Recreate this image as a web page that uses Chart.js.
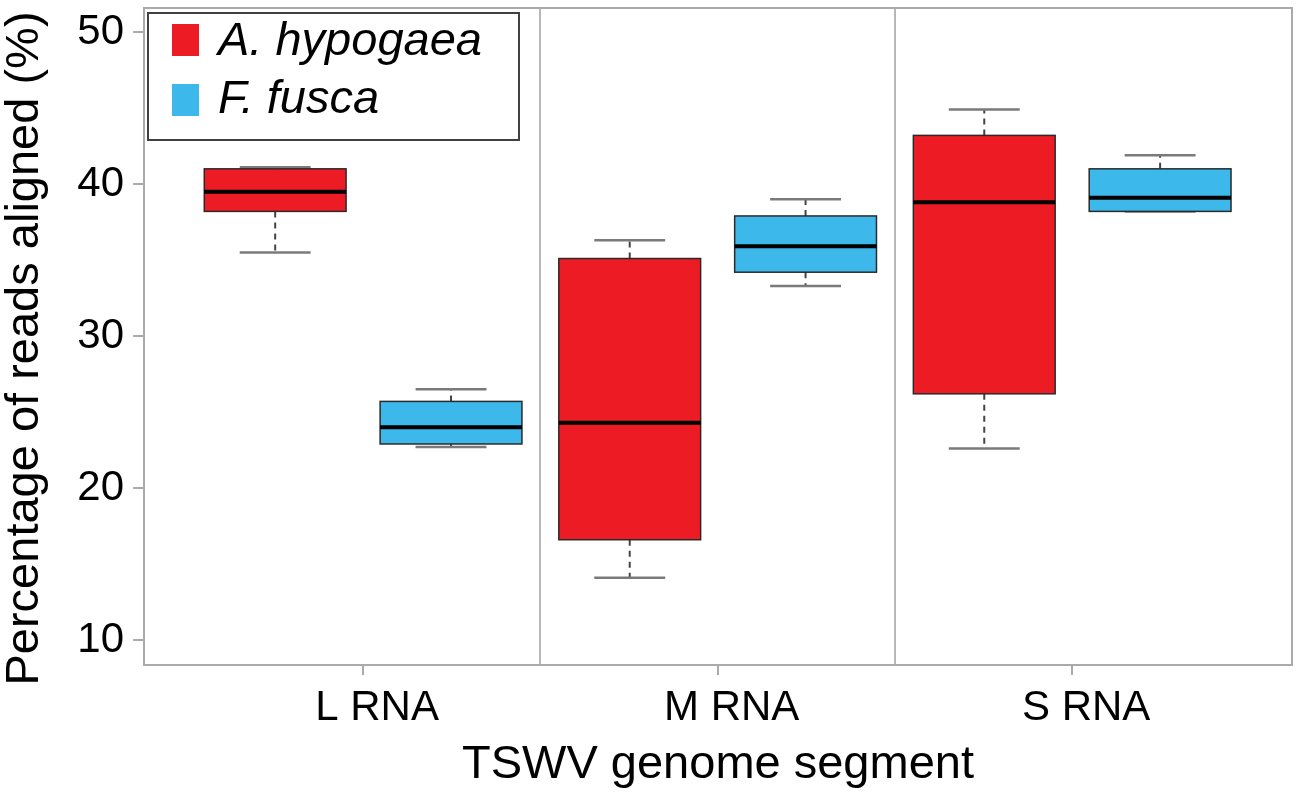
<!DOCTYPE html>
<html>
<head>
<meta charset="utf-8">
<script src="https://cdn.jsdelivr.net/npm/chart.js@4.4.1/dist/chart.umd.min.js"></script>
<style>
  html, body { margin: 0; padding: 0; background: #ffffff; }
  #wrap { width: 1300px; height: 799px; position: relative; }
</style>
</head>
<body>
<div id="wrap"><canvas id="c"></canvas></div>
<script>
// ---- data ----
const categories = ['L RNA', 'M RNA', 'S RNA'];
const speciesNames = ['A. hypogaea', 'F. fusca'];
const speciesColors = ['#ED1C24', '#3CB9EA'];
const yTicks = [10, 20, 30, 40, 50];
const yTitle = 'Percentage of reads aligned (%)';
const xTitle = 'TSWV genome segment';

const hypMin = [35.5, 14.1, 22.6];
const hypQ1  = [38.2, 16.6, 26.2];
const hypMed = [39.5, 24.3, 38.8];
const hypQ3  = [41.0, 35.1, 43.2];
const hypMax = [41.1, 36.3, 44.9];

const fusMin = [22.7, 33.3, 38.2];
const fusQ1  = [22.9, 34.2, 38.2];
const fusMed = [24.0, 35.9, 39.1];
const fusQ3  = [25.7, 37.9, 41.0];
const fusMax = [26.5, 39.0, 41.9];

const series = [
  { min: hypMin, q1: hypQ1, med: hypMed, q3: hypQ3, max: hypMax },
  { min: fusMin, q1: fusQ1, med: fusMed, q3: fusQ3, max: fusMax }
];

// ---- geometry in axis units ----
const OFFSETS = [-0.248, 0.248];
const BOX_HALF = 0.2;
const CAP_HALF = 0.1;
const FONT = "'Liberation Sans', Arial, Helvetica, sans-serif";

function seg(ctx, x1, y1, x2, y2) {
  ctx.beginPath(); ctx.moveTo(x1, y1); ctx.lineTo(x2, y2); ctx.stroke();
}

const boxPlugin = {
  id: 'boxes',
  afterDatasetsDraw(chart) {
    const { ctx, chartArea: a, scales: { x, y } } = chart;
    ctx.save();
    // category separators
    ctx.strokeStyle = '#b8b8b8';
    ctx.lineWidth = 2;
    for (let i = 0; i < categories.length - 1; i++) {
      const px = Math.round(x.getPixelForValue(i + 1.5));
      seg(ctx, px, a.top, px, a.bottom);
    }
    // boxes
    series.forEach((s, si) => {
      categories.forEach((c, ci) => {
        const pos = ci + 1 + OFFSETS[si];
        const xc = x.getPixelForValue(pos);
        const xl = x.getPixelForValue(pos - BOX_HALF);
        const xr = x.getPixelForValue(pos + BOX_HALF);
        const cl = x.getPixelForValue(pos - CAP_HALF);
        const cr = x.getPixelForValue(pos + CAP_HALF);
        const yMin = y.getPixelForValue(s.min[ci]);
        const yQ1 = y.getPixelForValue(s.q1[ci]);
        const yMed = y.getPixelForValue(s.med[ci]);
        const yQ3 = y.getPixelForValue(s.q3[ci]);
        const yMax = y.getPixelForValue(s.max[ci]);
        // whiskers (dashed)
        ctx.setLineDash([6, 5]);
        ctx.strokeStyle = '#444444';
        ctx.lineWidth = 2;
        seg(ctx, xc, yQ3, xc, yMax);
        seg(ctx, xc, yQ1, xc, yMin);
        ctx.setLineDash([]);
        // caps
        ctx.strokeStyle = '#7a7a7a';
        ctx.lineWidth = 2.5;
        seg(ctx, cl, yMax, cr, yMax);
        seg(ctx, cl, yMin, cr, yMin);
        // box
        ctx.fillStyle = speciesColors[si];
        ctx.fillRect(xl, yQ3, xr - xl, yQ1 - yQ3);
        ctx.strokeStyle = '#2a2a2a';
        ctx.lineWidth = 1.5;
        ctx.strokeRect(xl, yQ3, xr - xl, yQ1 - yQ3);
        // median
        ctx.strokeStyle = '#000000';
        ctx.lineWidth = 4;
        seg(ctx, xl, yMed, xr, yMed);
      });
    });
    // frame
    ctx.strokeStyle = '#aaaaaa';
    ctx.lineWidth = 2;
    ctx.strokeRect(a.left, a.top, a.right - a.left, a.bottom - a.top);
    // legend
    const lx = a.left + 4, ly = a.top + 5;
    ctx.fillStyle = '#ffffff';
    ctx.fillRect(lx, ly, 371, 127);
    ctx.strokeStyle = '#404040';
    ctx.lineWidth = 2;
    ctx.strokeRect(lx, ly, 371, 127);
    ctx.font = 'italic 47px ' + FONT;
    ctx.textBaseline = 'alphabetic';
    ctx.textAlign = 'left';
    speciesNames.forEach((name, i) => {
      ctx.fillStyle = speciesColors[i];
      ctx.fillRect(a.left + 28, a.top + 16 + i * 60, 27, 32);
      ctx.fillStyle = '#000000';
      ctx.fillText(name, a.left + 74, a.top + 47 + i * 58);
    });
    // y-axis title (rotated), slightly below the plot centre as in the reference
    ctx.save();
    ctx.translate(y.left + 25, (a.top + a.bottom) / 2 + 12);
    ctx.rotate(-Math.PI / 2);
    ctx.font = '47px ' + FONT;
    ctx.fillStyle = '#000000';
    ctx.textAlign = 'center';
    ctx.textBaseline = 'middle';
    ctx.fillText(yTitle, 0, 0);
    ctx.restore();
    ctx.restore();
  }
};

new Chart(document.getElementById('c'), {
  type: 'bar',
  data: { datasets: [] },
  options: {
    responsive: true,
    maintainAspectRatio: false,
    animation: false,
    devicePixelRatio: 1,
    layout: { padding: { left: 0, right: 8, top: 8, bottom: 0 } },
    plugins: { legend: { display: false }, tooltip: { enabled: false } },
    scales: {
      x: {
        type: 'linear',
        min: 0.382,
        max: 3.62,
        offset: false,
        afterBuildTicks(scale) { scale.ticks = categories.map((c, i) => ({ value: i + 1 })); },
        afterFit(scale) { scale.height = 134; scale.paddingLeft = 0; scale.paddingRight = 0; },
        ticks: {
          color: '#000000',
          font: { family: FONT, size: 42 },
          padding: 8,
          labelOffset: 14,
          maxRotation: 0,
          autoSkip: false,
          callback: (v) => categories[Math.round(v) - 1] || ''
        },
        grid: { offset: false, drawOnChartArea: false, drawTicks: true, tickLength: 10, color: '#aaaaaa', lineWidth: 2 },
        border: { display: false },
        title: {
          display: true,
          text: xTitle,
          color: '#000000',
          font: { family: FONT, size: 47, lineHeight: 1 },
          padding: { top: 0, bottom: 10 }
        }
      },
      y: {
        type: 'linear',
        min: 8.36,
        max: 51.58,
        afterBuildTicks(scale) { scale.ticks = yTicks.map(v => ({ value: v })); },
        afterFit(scale) { scale.width = 144; scale.paddingTop = 0; scale.paddingBottom = 0; },
        ticks: {
          color: '#000000',
          font: { family: FONT, size: 42 },
          padding: 9,
          callback: (v) => String(v)
        },
        grid: { drawOnChartArea: false, drawTicks: true, tickLength: 11, color: '#aaaaaa', lineWidth: 2 },
        border: { display: false },
        title: { display: false }
      }
    }
  },
  plugins: [boxPlugin]
});
</script>
</body>
</html>
